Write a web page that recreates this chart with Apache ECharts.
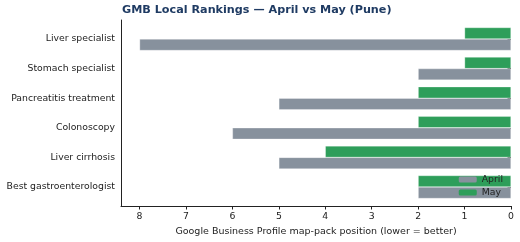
<!DOCTYPE html>
<html><head><meta charset="utf-8">
<script src="https://cdn.jsdelivr.net/npm/echarts@6/dist/echarts.min.js"></script>
<style>html,body{margin:0;padding:0;background:#fff}#c{width:520px;height:242px}</style>
</head><body><div id="c"></div>
<script>
const categories = ['Liver specialist','Stomach specialist','Pancreatitis treatment','Colonoscopy','Liver cirrhosis','Best gastroenterologist'];
const april = [8, 2, 5, 6, 5, 2];
const may = [1, 1, 2, 2, 4, 2];
const xTicks = [0,1,2,3,4,5,6,7,8];

const F = 'DejaVu Sans';
const chart = echarts.init(document.getElementById('c'), null, {renderer:'canvas'});
chart.setOption({
  animation: false,
  title: {text: 'GMB Local Rankings — April vs May (Pune)', left: 122, top: 5, padding: 0,
    textStyle: {fontFamily: F, fontSize: 11.2, fontWeight: 'bold', color: '#1f3b63'}},
  legend: {data: ['April','May'], orient: 'vertical', right: 12, top: 170, itemWidth: 18, itemHeight: 6, itemGap: 4,
    itemStyle: {borderWidth: 0},
    textStyle: {fontFamily: F, fontSize: 9.3, color: '#222'}},
  grid: [
    {left: 121, right: 9, top: 24.2, bottom: 40.2, containLabel: false},
    {left: 121, right: 9, top: 20, bottom: 36, containLabel: false}
  ],
  xAxis: [
    {gridIndex: 0, type: 'value', min: 0, max: 8.4, inverse: true, show: false},
    {gridIndex: 1, type: 'value', min: 0, max: 8.4, inverse: true,
      name: 'Google Business Profile map-pack position (lower = better)', nameLocation: 'middle', nameGap: 21,
      nameTextStyle: {fontFamily: F, fontSize: 9.5, color: '#222'},
      axisLine: {show: true, lineStyle: {color: '#222', width: 1}},
      axisTick: {show: true, length: 3.5, lineStyle: {color: '#222'}, customValues: xTicks},
      axisLabel: {fontFamily: F, fontSize: 9.3, color: '#222', margin: 6, customValues: xTicks},
      splitLine: {show: false}}
  ],
  yAxis: [
    {gridIndex: 0, type: 'category', data: categories, inverse: true,
      axisLine: {show: false},
      axisTick: {show: true, alignWithLabel: true, length: 3.5, lineStyle: {color: '#222'}},
      axisLabel: {fontFamily: F, fontSize: 9.3, color: '#222', margin: 6}},
    {gridIndex: 1, type: 'value', min: 0, max: 1,
      axisLine: {show: true, onZero: false, lineStyle: {color: '#222', width: 1}},
      axisTick: {show: false}, axisLabel: {show: false}, splitLine: {show: false}}
  ],
  series: [
    {name: 'May', type: 'bar', xAxisIndex: 0, yAxisIndex: 0, data: may, barWidth: 11.5, barGap: '0%',
      itemStyle: {color: '#2e9e5a', borderColor: 'rgba(255,255,255,0.6)', borderWidth: 0.5}},
    {name: 'April', type: 'bar', xAxisIndex: 0, yAxisIndex: 0, data: april, barWidth: 11.5, barGap: '0%',
      itemStyle: {color: '#87919d', borderColor: 'rgba(255,255,255,0.6)', borderWidth: 0.5}}
  ]
});
</script></body></html>
